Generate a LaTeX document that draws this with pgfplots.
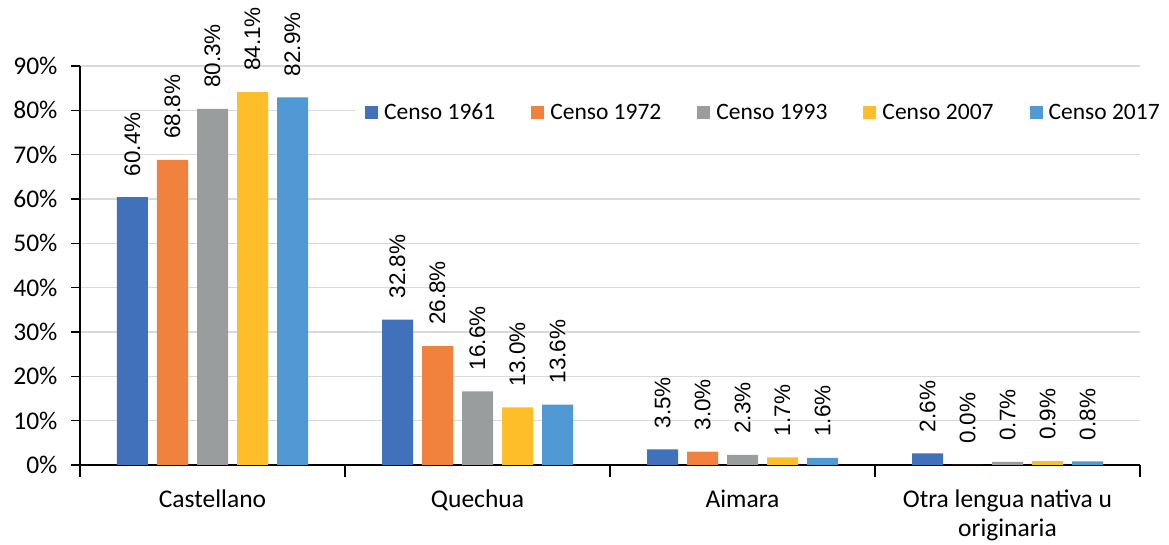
\documentclass[border=0pt]{standalone}
\usepackage{pgfplots}
\pgfplotsset{compat=1.18}
\usepackage{fontspec}
\setmainfont{Carlito}
\newfontfamily\arialfont{Liberation Sans}
\definecolor{c1}{HTML}{4171BB}
\definecolor{c2}{HTML}{F0823E}
\definecolor{c3}{HTML}{9A9D9D}
\definecolor{c4}{HTML}{FDBE2A}
\definecolor{c5}{HTML}{5199D4}
\definecolor{gridc}{HTML}{D9D9D9}
\begin{document}
\begin{tikzpicture}
\useasboundingbox (-80pt,-80pt) rectangle (1089pt,465pt);
\begin{axis}[
  at={(0pt,0pt)}, anchor=south west,
  scale only axis, width=1060pt, height=399pt,
  xmin=-0.5, xmax=3.5, ymin=0, ymax=90,
  clip=false,
  /pgf/number format/assume math mode=true,
  ybar=9pt, bar width=31pt,
  axis lines*=left,
  axis line style={black, line width=1.2pt},
  tick align=outside,
  ytick={0,10,...,90},
  yticklabel={\pgfmathprintnumber{\tick}\%},
  yticklabel style={font=\fontsize{25.5}{30}\selectfont, xshift=-10pt},
  y tick style={black, line width=1.2pt},
  major tick length=9pt,
  ymajorgrids, grid style={draw=gridc, line width=1.3pt},
  xtick={0,1,2,3},
  xticklabels={Castellano, Quechua, Aimara, {Otra lengua nativa u\\originaria}},
  xticklabel style={align=center, font=\fontsize{25.5}{29}\selectfont, yshift=-12pt},
  x tick style={draw=none},
  extra x ticks={-0.5,0.5,1.5,2.5,3.5},
  extra x tick labels={},
  extra x tick style={grid=none, major tick length=12pt, x tick style={draw=black, line width=1.2pt}},
  nodes near coords={\pgfmathprintnumber[fixed, fixed zerofill, precision=1]{\pgfplotspointmeta}\%},
  every node near coord/.append style={rotate=90, anchor=west, font=\arialfont\fontsize{22.5}{26}\selectfont, inner xsep=21pt, black},
  legend columns=5,
  legend style={at={(0.2594,0.883)}, anchor=west, fill=white, draw=none, inner xsep=10pt,
    font=\fontsize{23.5}{28}\selectfont,
    /tikz/every odd column/.append style={column sep=4pt},
    /tikz/every even column/.append style={column sep=34pt}},
  legend image code/.code={\fill[#1] (0pt,-6.5pt) rectangle (13pt,6.5pt);},
]
\addplot[fill=c1, draw=none] coordinates {(0,60.4) (1,32.8) (2,3.5) (3,2.6)};
\addplot[fill=c2, draw=none] coordinates {(0,68.8) (1,26.8) (2,3.0) (3,0.0)};
\addplot[fill=c3, draw=none] coordinates {(0,80.3) (1,16.6) (2,2.3) (3,0.7)};
\addplot[fill=c4, draw=none] coordinates {(0,84.1) (1,13.0) (2,1.7) (3,0.9)};
\addplot[fill=c5, draw=none] coordinates {(0,82.9) (1,13.6) (2,1.6) (3,0.8)};
\legend{Censo 1961, Censo 1972, Censo 1993, Censo 2007, Censo 2017}
\end{axis}
\end{tikzpicture}
\end{document}
